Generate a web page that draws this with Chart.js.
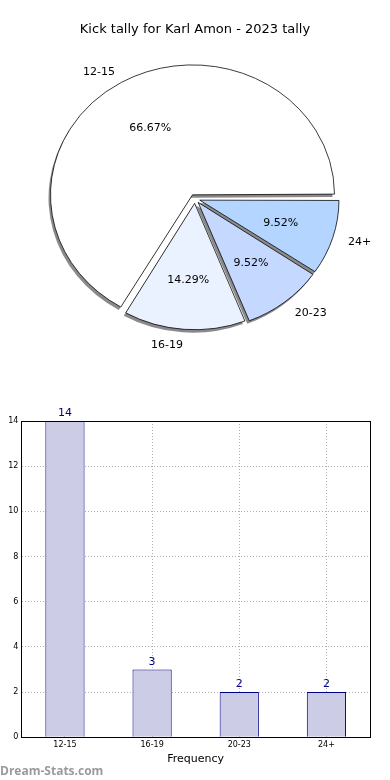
<!DOCTYPE html>
<html>
<head>
<meta charset="utf-8">
<script src="https://cdn.jsdelivr.net/npm/chart.js@4/dist/chart.umd.min.js"></script>
<style>
  body { margin: 0; background: #fff; width: 390px; height: 780px; overflow: hidden; position: relative; }
  #pie { position: absolute; left: 0; top: 0; }
  #bar { position: absolute; left: -16px; top: 400px; }
  #mark { position: absolute; left: 0; top: 762px; font: bold 12px "Open Sans", sans-serif; color: #9a9a9a; }
</style>
</head>
<body>
<canvas id="pie" width="390" height="400"></canvas>
<canvas id="bar" width="406" height="380"></canvas>
<div id="mark">Dream-Stats.com</div>
<script>
const categories = ['12-15', '16-19', '20-23', '24+'];
const kicks = [14, 3, 2, 2];
const yTicks = [0, 2, 4, 6, 8, 10, 12, 14];

const pieTitle = 'Kick tally for Karl Amon - 2023 tally';
const xTitle = 'Frequency';
const yTitle = 'Distribution';

const pieColors = ['#ffffff', '#ebf2ff', '#c5d8ff', '#b3d5ff'];
const SY = 0.915;   // matplotlib pie is a bit squashed vertically
const FONT = '"DejaVu Sans", sans-serif';

const total = kicks.reduce((a, b) => a + b, 0);

// chart.js goes clockwise, matplotlib counter clockwise -> reverse
const pieLabels = categories.slice().reverse();
const pieData = kicks.slice().reverse();
const pieBg = pieColors.slice().reverse();

function squash(ctx, a) {
  ctx.translate(a.x, a.y);
  ctx.scale(1, SY);
  ctx.translate(-a.x, -a.y);
}

const pieLook = {
  id: 'pieLook',
  beforeDatasetsDraw(chart) {
    const ctx = chart.ctx;
    const arcs = chart.getDatasetMeta(0).data;
    // shadow pass: grey copies of the wedges, shifted left/down
    ctx.save();
    ctx.translate(-2, 3);
    squash(ctx, arcs[0]);
    arcs.forEach(el => {
      const o = el.options;
      el.options = Object.assign({}, o, { backgroundColor: '#8a8a8a', borderWidth: 0 });
      el.draw(ctx);
      el.options = o;
    });
    ctx.restore();
    ctx.save();
    squash(ctx, arcs[0]);
  },
  afterDatasetsDraw(chart) {
    const ctx = chart.ctx;
    ctx.restore();
    ctx.save();
    ctx.font = '11px ' + FONT;
    ctx.fillStyle = '#000';
    ctx.textBaseline = 'middle';
    chart.getDatasetMeta(0).data.forEach((el, i) => {
      const mid = (el.startAngle + el.endAngle) / 2;
      const off = (el.options.offset || 0) / 4;
      const r = el.outerRadius + 4;
      const cx = el.x + Math.cos(mid) * off;
      const cy = el.y + Math.sin(mid) * off * SY;
      const pct = (pieData[i] / total * 100).toFixed(2) + '%';
      ctx.textAlign = 'center';
      ctx.fillText(pct, cx + Math.cos(mid) * r * 0.6, cy + Math.sin(mid) * r * 0.6 * SY);
      const lx = cx + Math.cos(mid) * r * 1.1;
      ctx.textAlign = Math.cos(mid) >= 0 ? 'left' : 'right';
      ctx.fillText(pieLabels[i], lx, cy + Math.sin(mid) * r * 1.1 * SY);
    });
    ctx.restore();
  }
};

new Chart(document.getElementById('pie'), {
  type: 'pie',
  data: {
    labels: pieLabels,
    datasets: [{
      data: pieData,
      backgroundColor: pieBg,
      borderColor: '#000',
      borderWidth: 0.8,
      offset: 20
    }]
  },
  options: {
    responsive: false,
    animation: false,
    devicePixelRatio: 1,
    rotation: 90,
    radius: 137,
    layout: { padding: { bottom: 50 } },
    plugins: {
      legend: { display: false },
      tooltip: { enabled: false },
      title: {
        display: true,
        text: pieTitle,
        color: '#000',
        font: { family: FONT, size: 13, weight: 'normal' },
        padding: { top: 22, bottom: 10 }
      }
    }
  },
  plugins: [pieLook]
});

const barLook = {
  id: 'barLook',
  afterDatasetsDraw(chart) {
    const ctx = chart.ctx;
    ctx.save();
    ctx.font = '11px ' + FONT;
    ctx.fillStyle = '#000080';
    ctx.textAlign = 'center';
    ctx.textBaseline = 'bottom';
    chart.getDatasetMeta(0).data.forEach((el, i) => {
      ctx.fillText(String(kicks[i]), el.x, el.y - 2);
    });
    ctx.restore();
  },
  afterDraw(chart) {
    const a = chart.chartArea;
    const ctx = chart.ctx;
    ctx.save();
    ctx.strokeStyle = '#000';
    ctx.lineWidth = 1;
    ctx.strokeRect(Math.round(a.left) + 0.5, Math.round(a.top) + 0.5,
      Math.round(a.right - a.left), Math.round(a.bottom - a.top));
    ctx.restore();
  }
};

new Chart(document.getElementById('bar'), {
  type: 'bar',
  data: {
    labels: categories,
    datasets: [{
      data: kicks,
      backgroundColor: '#ccccE6',
      borderColor: '#000080',
      borderWidth: 1,
      barPercentage: 0.45,
      categoryPercentage: 1
    }]
  },
  options: {
    responsive: false,
    animation: false,
    devicePixelRatio: 1,
    layout: { padding: { top: 21, right: 20, bottom: 10, left: 0 } },
    plugins: { legend: { display: false }, tooltip: { enabled: false } },
    scales: {
      x: {
        z: 1,
        offset: true,
        grid: { offset: false, color: '#b0b0b0', drawTicks: false },
        border: { color: '#000', dash: [1, 2] },
        ticks: { color: '#000', padding: 3, font: { family: FONT, size: 8 } },
        title: { display: true, text: xTitle, color: '#000', padding: { top: 0, bottom: 4 }, font: { family: FONT, size: 11 } }
      },
      y: {
        z: 1,
        min: yTicks[0],
        max: yTicks[yTicks.length - 1],
        afterBuildTicks(scale) { scale.ticks = yTicks.map(v => ({ value: v })); },
        grid: { color: '#b0b0b0', drawTicks: false },
        border: { color: '#000', dash: [1, 2] },
        ticks: { color: '#000', padding: 3, font: { family: FONT, size: 8 } },
        title: { display: true, text: yTitle, color: '#000', padding: { top: 6, bottom: 2 }, font: { family: FONT, size: 11 } }
      }
    }
  },
  plugins: [barLook]
});
</script>
</body>
</html>
